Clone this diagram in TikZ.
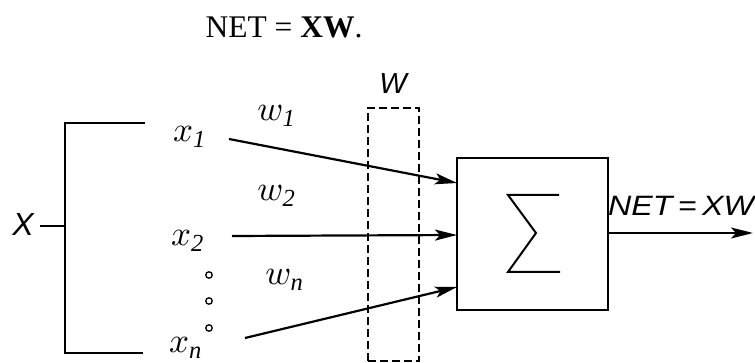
\documentclass[tikz,border=0pt]{standalone}
\usepackage{fontspec}
\setmainfont{Liberation Serif}
\newfontfamily\gost{Liberation Sans}
\usetikzlibrary{arrows.meta}
\newcommand{\mlbl}[1]{\scalebox{3.5}{$#1$}}
\tikzset{
  line/.style={line width=2.2pt},
  arr/.style={line width=2.2pt,-{Stealth[length=22pt,width=11pt,inset=5pt]}},
  gostlbl/.style={font=\gost\itshape\fontsize{27}{29}\selectfont,inner sep=0pt},
  mathlbl/.style={inner sep=0pt},
  dotc/.style={circle,draw,line width=1.3pt,minimum size=6.5pt,inner sep=0pt},
}
\begin{document}
\begin{tikzpicture}[x=1pt,y=-1pt]
\useasboundingbox (0,0) rectangle (755,363);
% title
\node[inner sep=0pt,font=\fontsize{31.5}{34}\selectfont] (title) at (284,27) {NET = \textbf{XW}.};
% X and bracket
\node[gostlbl,font=\gost\itshape\fontsize{32}{34}\selectfont] (X) at (23,224) {X};
\coordinate (bt) at (65,123);
\coordinate (bb) at (65,353);
\coordinate (bm) at (65,226);
\coordinate (xs) at (40,226);
\coordinate (btr) at (145,123);
\coordinate (bbr) at (143,353);
\draw[line] (btr) -- (bt) -- (bb) -- (bbr);
\draw[line] (xs) -- (bm);
% inputs
\node[mathlbl] (x1) at (190,137) {\mlbl{x_{\mathit{1}}}};
\node[mathlbl] (x2) at (188,241) {\mlbl{x_{\mathit{2}}}};
\node[mathlbl] (xn) at (186,348) {\mlbl{x_{\mathit{n}}}};
\node[dotc] (d1) at (209,275) {};
\node[dotc] (d2) at (209,301) {};
\node[dotc] (d3) at (209,328) {};
% weights
\node[mathlbl] (w1) at (277,116) {\mlbl{w_{\mathit{1}}}};
\node[mathlbl] (w2) at (277,196) {\mlbl{w_{\mathit{2}}}};
\node[mathlbl] (wn) at (285,280) {\mlbl{w_{\mathit{n}}}};
% W dashed box
\node[draw,line width=1.6pt,dash pattern=on 8pt off 4pt,minimum width=51pt,minimum height=253pt,inner sep=0pt] (wbox) at (393.5,234.5) {};
\node[gostlbl,font=\gost\itshape\fontsize{29}{31}\selectfont] (W) at (393,84) {W};
% sum box
\node[draw,line width=2.2pt,minimum width=151pt,minimum height=152pt,inner sep=0pt] (sum) at (532.5,234) {};
\coordinate (sg1) at (508,195);
\coordinate (sg2) at (559,195);
\coordinate (sg3) at (536,233);
\coordinate (sg4) at (508,272);
\coordinate (sg5) at (560,272);
\draw[line width=2pt] (sg2) -- (sg1) -- (sg3) -- (sg4) -- (sg5);
% connectors
\coordinate (s1) at (229,139);
\coordinate (s2) at (232,236);
\coordinate (sn) at (245,338);
\coordinate (e1) at (457,183);
\coordinate (e2) at (457,235);
\coordinate (en) at (457,287);
\draw[arr] (s1) -- (e1);
\draw[arr] (s2) -- (e2);
\draw[arr] (sn) -- (en);
% output
\coordinate (out) at (753,233);
\draw[arr] (sum.east |- out) -- (out);
\node[gostlbl,font=\gost\itshape\fontsize{28}{30}\selectfont] (net) at (681,206) {\scalebox{1.15}[1]{NET\,=\,XW}};
\end{tikzpicture}
\end{document}
